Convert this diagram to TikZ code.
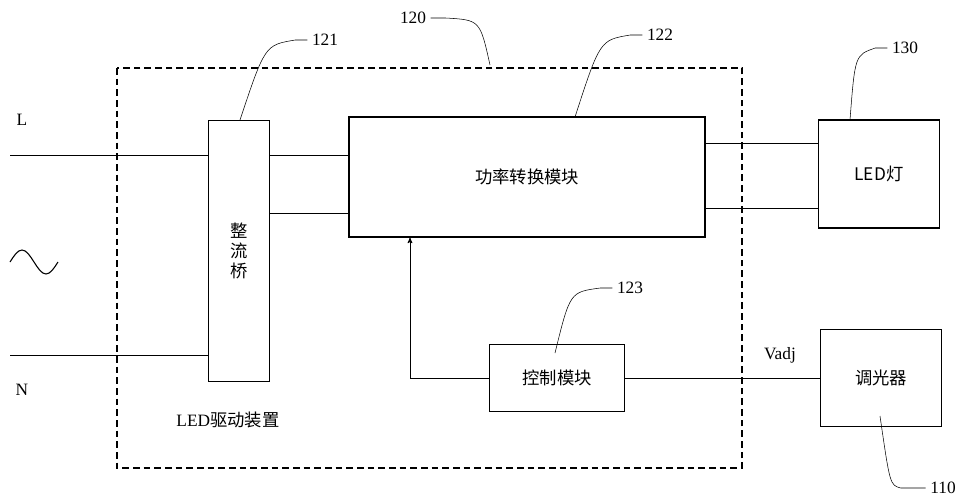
\documentclass[tikz,border=0pt]{standalone}
\usepackage{fontspec}
\setmainfont{Liberation Serif}
\newfontfamily\cjk{Noto Sans CJK SC}
\usetikzlibrary{calc,arrows,positioning}

\begin{document}
\begin{tikzpicture}[x=0.75pt, y=-0.75pt, font=\fontsize{13}{15}\selectfont,
    blk/.style={draw, thick, inner sep=0pt, font=\cjk\fontsize{13}{15}\selectfont},
    wire/.style={semithick},
    lead/.style={thin}]
        \useasboundingbox (0, 0) rectangle (975, 500);

        % driver outline
        \draw[thick, dash pattern=on 5pt off 3pt] (117, 68) rectangle (742, 468);

        \node[blk, minimum width=46pt, minimum height=196pt, align=center] (rect) at (239, 251) {整\\流\\桥};
        \node[blk, minimum width=267pt, minimum height=90pt] (pwr) at (527, 177) {功率转换模块};
        \node[blk, minimum width=91pt, minimum height=81pt] (led) at (879, 174) {LED{\cjk 灯}};
        \node[blk, minimum width=101pt, minimum height=50pt] (ctrl) at (557, 378) {控制模块};
        \node[blk, minimum width=91pt, minimum height=73pt] (dim) at (881, 378) {调光器};

        \node (L) at (22, 120) {L};
        \node (N) at (22, 390) {N};
        \node[font=\cjk\fontsize{13}{15}\selectfont] (drv) at (228, 420) {\rmfamily LED\cjk 驱动装置};
        \node (vadj) at (780, 355) {Vadj};

        \coordinate (inL) at (10, 155);
        \coordinate (inN) at (10, 355);
        \draw[wire] (inL) -- (inL -| rect.west);
        \draw[wire] (inN) -- (inN -| rect.west);
        \draw[thick] (10, 262) sin (22, 250) cos (34, 262) sin (46, 274) cos (58, 262);

        \coordinate (r1) at (270, 155);
        \coordinate (r2) at (270, 213);
        \coordinate (p1) at (705, 143);
        \coordinate (p2) at (705, 208);
        \draw[wire] (r1) -- (r1 -| pwr.west);
        \draw[wire] (r2) -- (r2 -| pwr.west);
        \draw[wire] (p1) -- (p1 -| led.west);
        \draw[wire] (p2) -- (p2 -| led.west);
        \draw[wire] (ctrl.east) -- (ctrl.east -| dim.west);
        \coordinate (tap) at (410, 378);
        \draw[wire, ->, >=stealth'] (ctrl.west) -- (tap) -- (tap |- pwr.south);

        % reference numerals
        \node (n120) at (413, 18) {120};
        \node (n121) at (325, 40) {121};
        \node (n122) at (660, 35) {122};
        \node (n130) at (905, 48) {130};
        \node (n123) at (630, 288) {123};
        \node (n110) at (943, 488) {110};
        \draw[lead] (n120.east) -- ++(15, 0) .. controls (480, 20) .. (490, 65);
        \draw[lead] (n121.west) -- ++(-12, 0) .. controls (265, 45) .. (240, 120);
        \draw[lead] (n122.west) -- ++(-12, 0) .. controls (600, 40) .. (575, 117);
        \draw[lead] (n130.west) -- ++(-12, 0) .. controls (855, 55) .. (850, 120);
        \draw[lead] (n123.west) -- ++(-12, 0) .. controls (570, 292) .. (555, 353);
        \draw[lead] (n110.west) -- ++(-25, 0) .. controls (890, 485) .. (880, 416);
\end{tikzpicture}
\end{document}
